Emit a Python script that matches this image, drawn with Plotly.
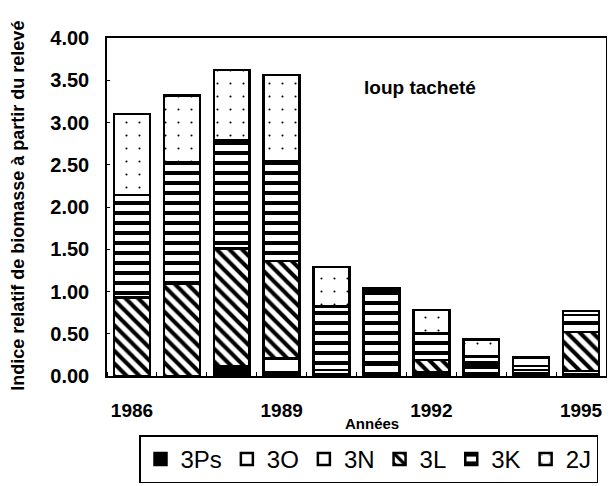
import plotly.graph_objects as go

years = [1986, 1987, 1988, 1989, 1990, 1991, 1992, 1993, 1994, 1995]
v_3Ps = [0.00, 0.00, 0.12, 0.02, 0.00, 0.00, 0.00, 0.00, 0.00, 0.00]
v_3O = [0.00, 0.00, 0.00, 0.02, 0.02, 0.03, 0.01, 0.03, 0.03, 0.02]
v_3N = [0.00, 0.00, 0.00, 0.17, 0.05, 0.10, 0.03, 0.07, 0.04, 0.04]
v_3L = [0.93, 1.09, 1.39, 1.15, 0.00, 0.00, 0.15, 0.03, 0.00, 0.46]
v_3K = [1.21, 1.44, 1.28, 1.18, 0.75, 0.89, 0.32, 0.10, 0.05, 0.20]
v_2J = [0.96, 0.79, 0.83, 1.02, 0.47, 0.02, 0.27, 0.20, 0.10, 0.05]

series_names = ["3Ps", "3O", "3N", "3L", "3K", "2J"]
series_vals = [v_3Ps, v_3O, v_3N, v_3L, v_3K, v_2J]
tick_years = [1986, 1989, 1992, 1995]
y_ticks = [0, 0.5, 1.0, 1.5, 2.0, 2.5, 3.0, 3.5, 4.0]

patterns = {
    "3Ps": dict(shape="", bgcolor="black", fgcolor="black"),
    "3O": dict(shape="", bgcolor="white", fgcolor="black"),
    "3N": dict(shape="", bgcolor="white", fgcolor="black"),
    "3L": dict(shape="\\", bgcolor="white", fgcolor="black", fgopacity=1, size=9, solidity=0.45),
    "3K": dict(shape="-", bgcolor="white", fgcolor="black", fgopacity=1, size=10, solidity=0.4),
    "2J": dict(shape=".", bgcolor="white", fgcolor="black", fgopacity=1, size=13, solidity=0.02),
}

FONT = "Liberation Sans, Arial, Helvetica, sans-serif"

fig = go.Figure()
for name, vals in zip(series_names, series_vals):
    fig.add_trace(go.Bar(
        x=years, y=vals, name=name, width=0.72,
        marker=dict(color="black" if name == "3Ps" else "white",
                    line=dict(color="black", width=2.5),
                    pattern=patterns[name]),
    ))

OFF = 8  # page body margin
W, H = 615 - OFF, 486 - OFF
L = 107 - OFF
T = 38 - OFF
R = 615 - 606
B = H - (376.5 - OFF)
ph = H - T - B
pw = W - L - R


def px_x(x):
    return (x - OFF - L) / pw


def px_y(y):
    return (H - B - (y - OFF)) / ph


fig.update_layout(
    width=W, height=H,
    margin=dict(l=L, r=R, t=T, b=B, pad=0, autoexpand=False),
    barmode="stack",
    paper_bgcolor="white", plot_bgcolor="white",
    font=dict(family=FONT, color="black"),
    showlegend=True,
    legend=dict(
        orientation="h", traceorder="normal",
        x=px_x(139), xanchor="left",
        y=px_y(436), yanchor="top",
        bordercolor="black", borderwidth=1.5, bgcolor="white",
        font=dict(size=24, family=FONT, color="black"),
        itemwidth=30, itemclick=False,
    ),
    xaxis=dict(
        range=[1985.5, 1995.5], automargin=False,
        tickvals=tick_years, ticktext=[str(y) for y in tick_years],
        ticks="outside", ticklen=16, tickcolor="rgba(0,0,0,0)",
        showgrid=False, zeroline=False,
        showline=True, linecolor="black", linewidth=1.5, mirror=True,
        tickfont=dict(size=19, family=FONT, weight="bold"),
        minor=dict(tick0=1985.5, dtick=1, ticks="inside", ticklen=4,
                   tickcolor="black", tickwidth=1, showgrid=False),
    ),
    yaxis=dict(
        range=[0, 4.0], automargin=False,
        tickvals=y_ticks, tickformat=".2f",
        ticks="inside", ticklen=3, tickcolor="black",
        showgrid=False, zeroline=False,
        showline=True, linecolor="black", linewidth=1.5, mirror=True,
        tickfont=dict(size=20, family=FONT, weight="bold"),
        ticklabelstandoff=12,
    ),
    annotations=[
        dict(text="loup tacheté", x=1991.77, y=3.42, xref="x", yref="y",
             showarrow=False, font=dict(size=19, family=FONT, weight="bold")),
        dict(text="Années", x=px_x(372), y=px_y(424),
             xref="paper", yref="paper", showarrow=False,
             xanchor="center", yanchor="middle",
             font=dict(size=15, family=FONT, weight="bold")),
        dict(text="Indice relatif de biomasse à partir du relevé",
             x=px_x(18), y=px_y(206), xref="paper", yref="paper",
             showarrow=False, textangle=-90, xanchor="center", yanchor="middle",
             font=dict(size=18, family=FONT, weight="bold")),
    ],
)

fig.write_html("out.html")
